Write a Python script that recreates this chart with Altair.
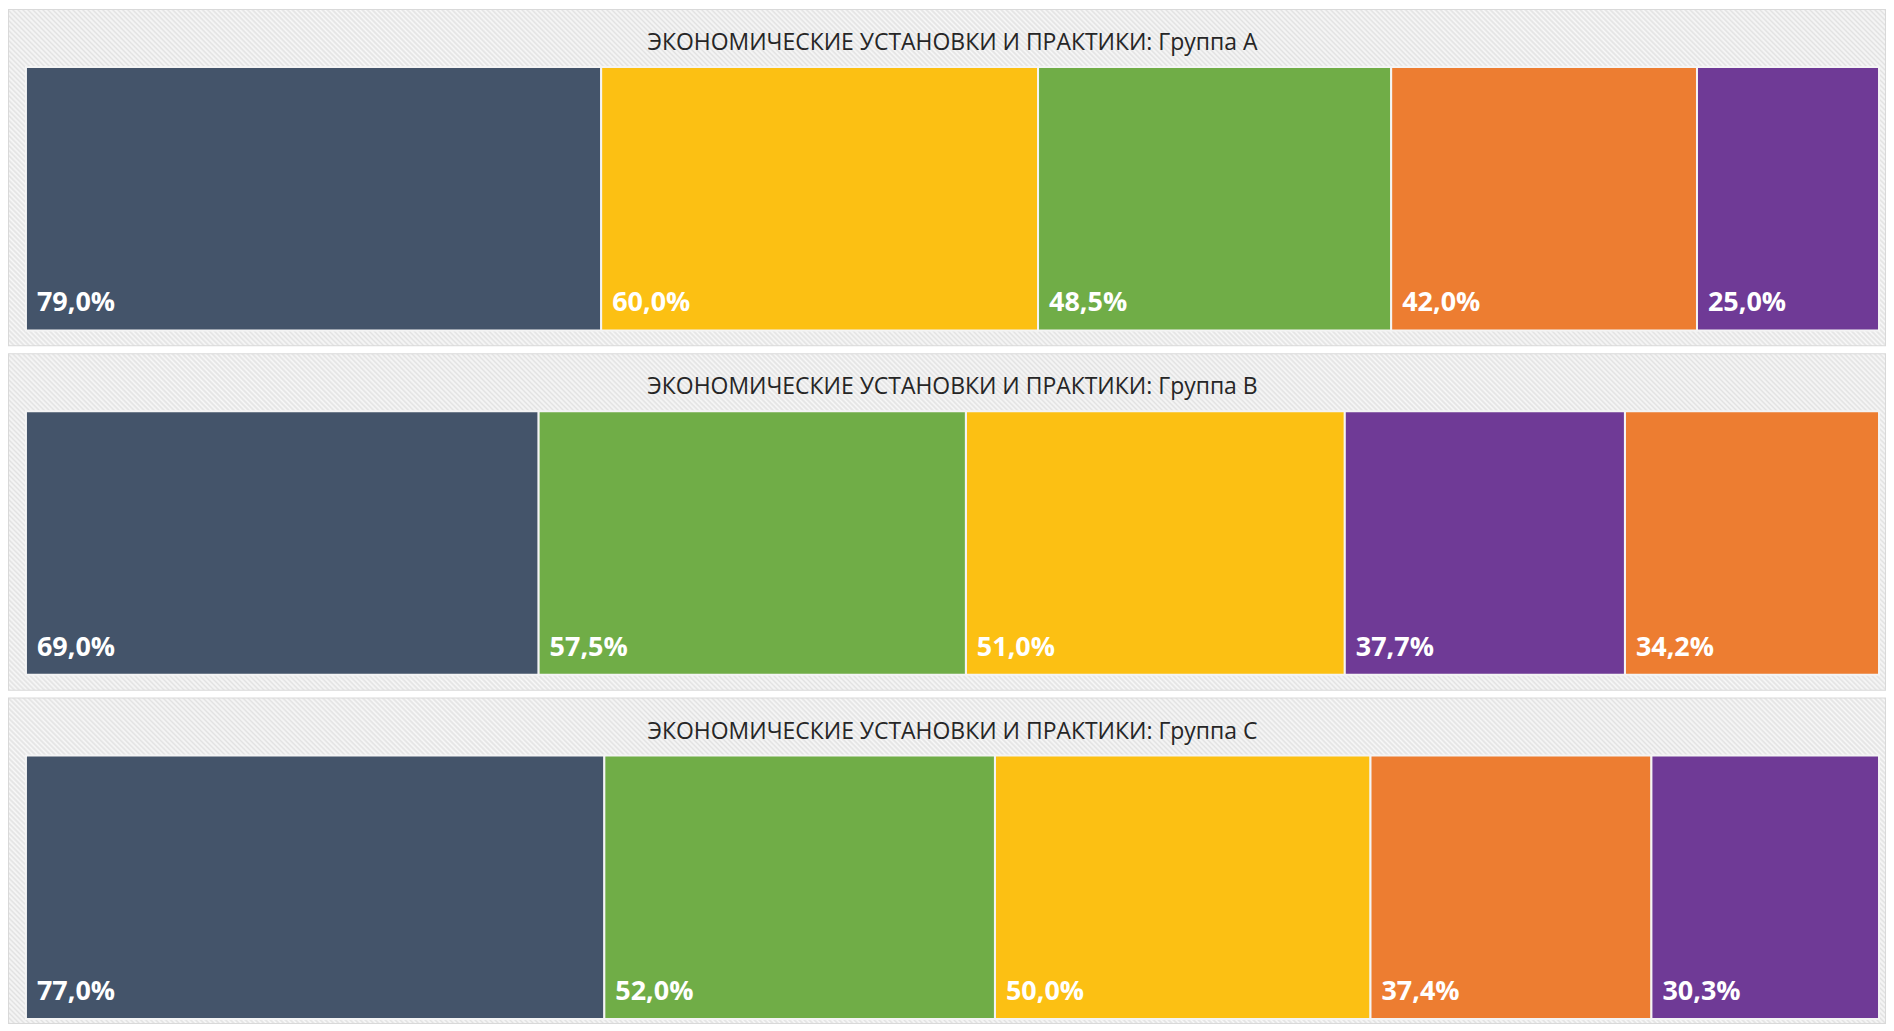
import altair as alt
import pandas as pd

# ---- data ----
groups = ["Группа A", "Группа B", "Группа C"]
title_prefix = "ЭКОНОМИЧЕСКИЕ УСТАНОВКИ И ПРАКТИКИ: "
categories = ["Категория 1", "Категория 2", "Категория 3", "Категория 4", "Категория 5"]
colors = ["#44546A", "#FCC013", "#70AD47", "#ED7D31", "#6F3A96"]
values_a = [79.0, 60.0, 48.5, 42.0, 25.0]
values_b = [69.0, 51.0, 57.5, 34.2, 37.7]
values_c = [77.0, 50.0, 52.0, 37.4, 30.3]

W = 1880
heights = [336, 336, 325]
X_RANGE = [17, 1874]
BAR_TOP, BAR_BOTTOM = 57, 321


def hatch(w, h, period=5.0):
    s = (w + h) / (w * w + h * h)
    n = int(round((w + h) / period))
    stops = []
    for k in range(n):
        stops.append({"offset": round(k / n, 6), "color": "#e2e2e2"})
        stops.append({"offset": round((k + 0.5) / n, 6), "color": "#f8f8f8"})
    stops.append({"offset": 1.0, "color": "#e2e2e2"})
    return {"gradient": "linear", "x1": 0, "y1": 1,
            "x2": round(w * s, 6), "y2": round(1 - h * s, 6), "stops": stops}


def panel(group, vals, h):
    df = pd.DataFrame({"group": group, "category": categories, "value": vals})
    base = alt.Chart(df).transform_calculate(
        label="replace(format(datum.value, '.1f'), '.', ',') + '%'"
    ).transform_stack(
        stack="value", groupby=["group"], as_=["x0", "x1"], offset="normalize",
        sort=[alt.SortField("value", order="descending")],
    )
    xs = alt.X("x0:Q", scale=alt.Scale(domain=[0, 1], range=X_RANGE), axis=None)

    bars = base.mark_rect(stroke="#f4f4f4", strokeWidth=2).encode(
        x=xs, x2="x1:Q",
        y=alt.value(BAR_TOP), y2=alt.value(BAR_BOTTOM),
        color=alt.Color("category:N", scale=alt.Scale(domain=categories, range=colors), legend=None),
    )
    labels = base.mark_text(
        align="left", baseline="alphabetic", dx=11, font="Open Sans",
        fontSize=27, fontWeight="bold", color="white",
    ).encode(x=xs, y=alt.value(BAR_BOTTOM - 19), text="label:N")

    tdata = alt.Data(values=[{"t": title_prefix + group}])
    bg = alt.Chart(tdata).mark_rect(fill=hatch(W, h)).encode(
        x=alt.value(0), x2=alt.value(W), y=alt.value(0), y2=alt.value(h)
    )
    title = alt.Chart(tdata).mark_text(
        align="center", baseline="alphabetic", font="Open Sans", fontSize=23, color="#262626"
    ).encode(text="t:N", x=alt.value((X_RANGE[0] + X_RANGE[1]) / 2), y=alt.value(40))

    return alt.layer(bg, bars, labels, title).properties(width=W, height=h)


chart = alt.vconcat(
    panel(groups[0], values_a, heights[0]),
    panel(groups[1], values_b, heights[1]),
    panel(groups[2], values_c, heights[2]),
    spacing=7,
).properties(
    padding={"left": 0, "top": 0, "right": 0, "bottom": 0}
).configure_view(stroke="#d9d9d9", strokeWidth=2)

chart.save("out.html", embed_options={"renderer": "svg", "actions": False})
